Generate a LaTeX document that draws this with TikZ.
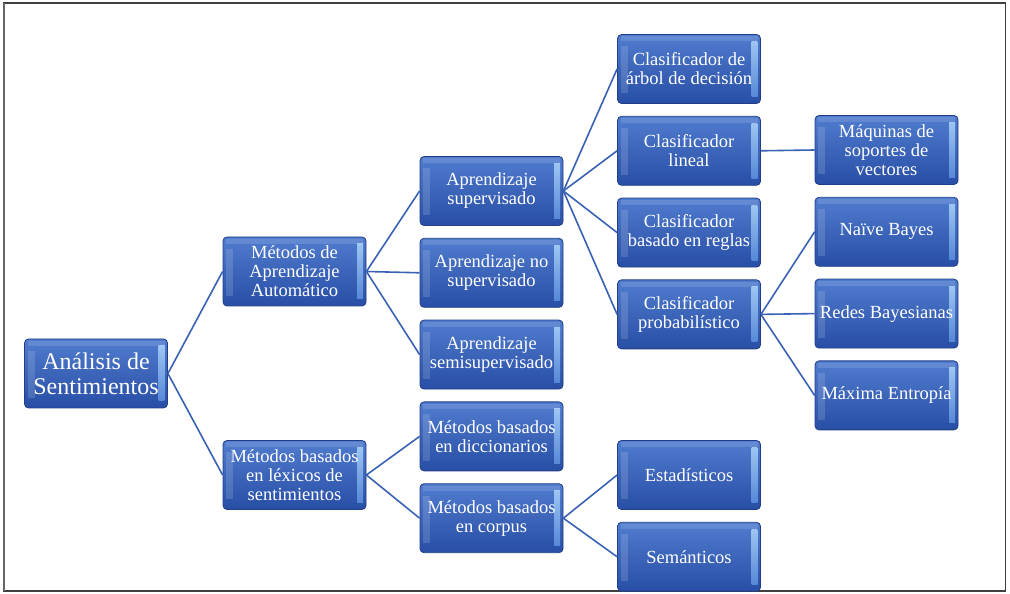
\documentclass[tikz,border=0pt]{standalone}
\usepackage{fontspec}
\setmainfont{Liberation Serif}
\usetikzlibrary{positioning,calc}
\definecolor{boxtop}{RGB}{80,124,206}
\definecolor{boxbot}{RGB}{40,78,166}
\definecolor{boxedge}{RGB}{34,62,134}
\definecolor{striptop}{RGB}{165,205,245}
\definecolor{stripbot}{RGB}{78,128,212}
\definecolor{linkblue}{RGB}{58,98,180}
\tikzset{
    box/.style = {draw=boxedge, line width=0.8pt, rounded corners=4pt,
        top color=boxtop, bottom color=boxbot, text=white,
        minimum width=143pt, minimum height=69pt, inner sep=0pt, align=center,
        font=\fontsize{18.5}{19}\selectfont,
        path picture={
            \fill[sharp corners, top color=striptop, bottom color=stripbot]
                ($(path picture bounding box.north east)+(-9pt,-7pt)$) rectangle ($(path picture bounding box.south east)+(-3pt,7pt)$);
            \fill[sharp corners, white, opacity=.14]
                ($(path picture bounding box.north west)+(3pt,-12pt)$) rectangle ($(path picture bounding box.south west)+(10pt,10pt)$);
            \fill[sharp corners, white, opacity=.12]
                ($(path picture bounding box.north west)+(3pt,-2pt)$) rectangle ($(path picture bounding box.north east)+(-3pt,-7pt)$);
        }},
    rootbox/.style = {box, font=\fontsize{24}{25}\selectfont},
    link/.style = {draw=linkblue, line width=1.6pt},
    frame/.style = {draw=black!75, line width=1.5pt}
}
\begin{document}
\begin{tikzpicture}[x=1pt, y=1pt, node distance=12pt]
    \useasboundingbox (0,0) rectangle (1010,594);
    \draw [frame] (3.5,3) rectangle (1005.5,591);
    \draw [draw=black!60, line width=2.5pt] (4,3) -- (4,591);
    % root and first level
    \node [rootbox] (ans) at (96,220.5) {An\'alisis de\\Sentimientos};
    \node [box] (maa) at (294.5,322.5) {M\'etodos de\\Aprendizaje\\Autom\'atico};
    \node [box] (mbl) at (294.5,119) {M\'etodos basados\\en l\'exicos de\\sentimientos};
    % second level
    \node [box] (sup) at (491.5,403) {Aprendizaje\\supervisado};
    \node [box, below=of sup] (nosup) {Aprendizaje no\\supervisado};
    \node [box, below=of nosup] (semi) {Aprendizaje\\semisupervisado};
    \node [box, below=of semi] (dic) {M\'etodos basados\\en diccionarios};
    \node [box, below=of dic] (corp) {M\'etodos basados\\en corpus};
    % third level
    \node [box] (arbol) at (689,525) {Clasificador de\\\'arbol de decisi\'on};
    \node [box, below=of arbol] (lineal) {Clasificador\\lineal};
    \node [box, below=of lineal] (reglas) {Clasificador\\basado en reglas};
    \node [box, below=of reglas] (prob) {Clasificador\\probabil\'istico};
    \node [box] (estad) at (689,119) {Estad\'isticos};
    \node [box, below=of estad] (seman) {Sem\'anticos};
    % fourth level
    \node [box] (svm) at (886.5,444) {M\'aquinas de\\soportes de\\vectores};
    \node [box, below=of svm] (nb) {Na\"ive Bayes};
    \node [box, below=of nb] (rb) {Redes Bayesianas};
    \node [box, below=of rb] (me) {M\'axima Entrop\'ia};
    % connectors
    \foreach \a/\b in {ans/maa, ans/mbl, maa/sup, maa/nosup, maa/semi, mbl/dic, mbl/corp,
        sup/arbol, sup/lineal, sup/reglas, sup/prob, corp/estad, corp/seman,
        lineal/svm, prob/nb, prob/rb, prob/me}{
        \draw [link] (\a.east) -- (\b.west);
    }
\end{tikzpicture}
\end{document}
